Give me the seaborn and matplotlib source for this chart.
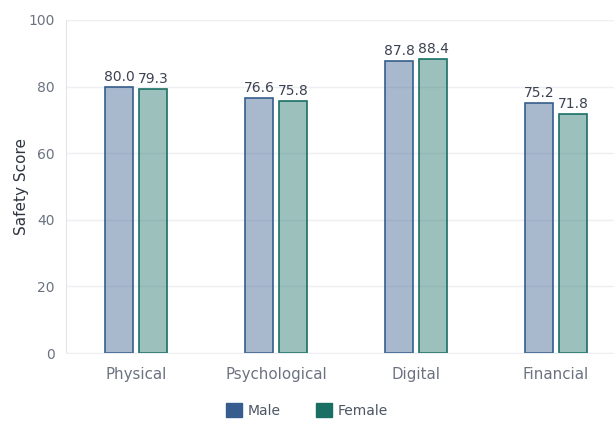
import seaborn as sns
import matplotlib.pyplot as plt
import matplotlib.patches as mpatches
import pandas as pd

# chart data
categories = ['Physical', 'Psychological', 'Digital', 'Financial']
male_scores = [80.0, 76.6, 87.8, 75.2]
female_scores = [79.3, 75.8, 88.4, 71.8]
genders = ['Male', 'Female']
colors = {'Male': '#365d8d', 'Female': '#1a6f64'}

df = pd.DataFrame({
    'category': categories * 2,
    'score': male_scores + female_scores,
    'gender': ['Male'] * len(categories) + ['Female'] * len(categories),
})

sns.set_style('white')
plt.rcParams['font.family'] = ['DejaVu Sans']

fig = plt.figure(figsize=(6.14, 4.21), dpi=100)
ax = fig.add_axes([0.1075, 0.1615, 0.8925, 0.791])

sns.barplot(data=df, x='category', y='score', hue='gender', order=categories,
            hue_order=genders, palette=colors, width=0.486, gap=0.2,
            errorbar=None, legend=False, ax=ax)

# translucent fill, solid outline
for container, g in zip(ax.containers, genders):
    for bar in container:
        bar.set_alpha(None)
        fc = list(plt.matplotlib.colors.to_rgba(colors[g]))
        fc[3] = 0.43
        bar.set_facecolor(fc)
        bar.set_edgecolor(colors[g])
        bar.set_linewidth(1.2)
    ax.bar_label(container, fmt='%.1f', padding=2, fontsize=10, color='#3b4252')

ax.set_ylim(0, 100)
ax.set_xlim(-0.5, 3.414)
ax.set_yticks([0, 20, 40, 60, 80, 100])
ax.yaxis.grid(True, color='#eeeff2', linewidth=1)
ax.set_axisbelow(True)
for s in ['top', 'right']:
    ax.spines[s].set_visible(False)
ax.spines['left'].set_color('#e3e5ea')
ax.spines['bottom'].set_color('#eeeff2')
ax.tick_params(axis='y', length=3, color='#e3e5ea', labelsize=10, labelcolor='#6b7280', pad=5)
ax.tick_params(axis='x', length=0, labelsize=10.8, labelcolor='#6b7280', pad=10)
ax.set_xlabel('')
ax.set_ylabel('Safety Score', fontsize=11, color='#2f3540', va='center')
ax.yaxis.set_label_coords(-0.082, 0.5)

handles = [mpatches.Patch(color=colors[g], label=g) for g in genders]
fig.legend(handles=handles, loc='lower center', bbox_to_anchor=(0.5, -0.022), ncol=2,
           frameon=False, fontsize=10, handlelength=1.2, handleheight=1.2,
           handletextpad=0.4, columnspacing=2.5, labelcolor='#4b5563')

fig.savefig('out.png', dpi=100)
